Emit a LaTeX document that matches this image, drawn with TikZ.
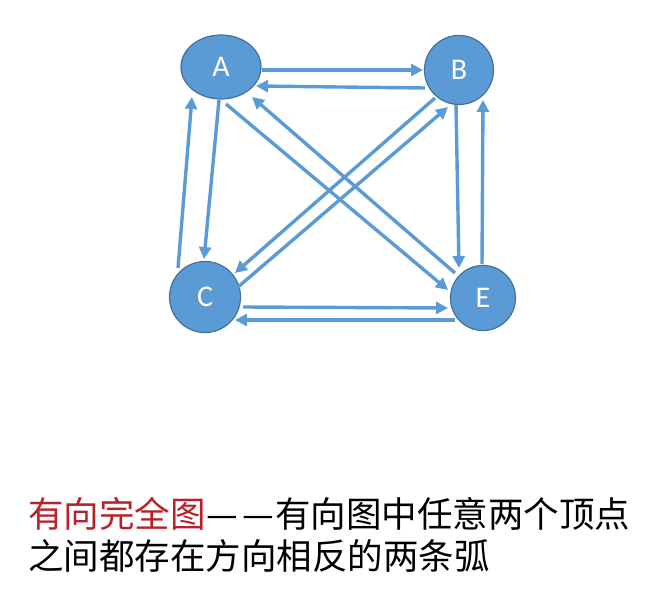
\documentclass[tikz,border=0pt]{standalone}
\usepackage{fontspec}
\setmainfont{Carlito}
\newfontfamily\cjk{Noto Sans CJK SC}
\usetikzlibrary{arrows.meta,shapes.geometric}
\definecolor{nodefill}{HTML}{5B9BD5}
\definecolor{nodeline}{HTML}{41719C}
\definecolor{edgecol}{HTML}{5B9BD5}
\definecolor{titlered}{HTML}{B8202A}
\tikzset{
  vtx/.style={draw=nodeline, line width=1.2pt, fill=nodefill, text=white, font=\fontsize{30}{30}\selectfont, inner sep=0pt},
  arr/.style={draw=edgecol, line width=3.4pt, -{Triangle[length=12pt,width=12pt]}},
  txt/.style={anchor=base west, inner sep=0pt, font=\cjk\fontsize{35.5}{35.5}\selectfont}
}
\begin{document}
\begin{tikzpicture}[x=1pt,y=-1pt]
\useasboundingbox (0,0) rectangle (663,601);
\node[vtx, ellipse, minimum width=80pt, minimum height=64pt] (A) at (221,67) {A};
\node[vtx, circle, minimum size=69pt] (B) at (459,70) {B};
\node[vtx, circle, minimum size=71pt] (C) at (205,297) {C};
\node[vtx, circle, minimum size=65pt] (E) at (483,298) {E};
% A <-> B
\draw[arr] ([shift={(41,3)}]A.center) -- ([shift={(-36,0)}]B.center);
\draw[arr] ([shift={(-34,18)}]B.center) -- ([shift={(35,19)}]A.center);
% A <-> C
\draw[arr] ([shift={(-27,-29)}]C.center) -- ([shift={(-29,30)}]A.center);
\draw[arr] ([shift={(-2,33)}]A.center) -- ([shift={(-1,-38)}]C.center);
% B <-> E
\draw[arr] ([shift={(-3,35)}]B.center) -- ([shift={(-24,-30)}]E.center);
\draw[arr] ([shift={(-1,-34)}]E.center) -- ([shift={(24,30)}]B.center);
% A <-> E
\draw[arr] ([shift={(5,37)}]A.center) -- ([shift={(-35,-8)}]E.center);
\draw[arr] ([shift={(-28,-25)}]E.center) -- ([shift={(31,30)}]A.center);
% B <-> C
\draw[arr] ([shift={(-24,28)}]B.center) -- ([shift={(30,-24)}]C.center);
\draw[arr] ([shift={(33,-10)}]C.center) -- ([shift={(-11,37)}]B.center);
% C <-> E
\draw[arr] ([shift={(38,10)}]C.center) -- ([shift={(-35,10)}]E.center);
\draw[arr] ([shift={(-28,22)}]E.center) -- ([shift={(30,23)}]C.center);
% text
\node[txt] (t1) at (28,527) {\textcolor{titlered}{有向完全图}\kern1pt—\kern4pt—\kern1pt有向图中任意两个顶点};
\node[txt] (t2) at (28,569) {之间都存在方向相反的两条弧};
\end{tikzpicture}
\end{document}
